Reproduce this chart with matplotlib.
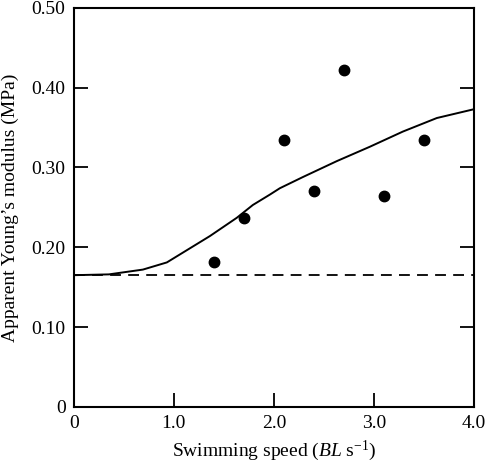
import matplotlib
matplotlib.use("Agg")
import matplotlib.pyplot as plt

plt.rcParams['font.family'] = 'serif'
plt.rcParams['font.serif'] = ['Liberation Serif', 'Times New Roman', 'DejaVu Serif']
plt.rcParams['mathtext.fontset'] = 'custom'
plt.rcParams['mathtext.rm'] = 'Liberation Serif'
plt.rcParams['mathtext.it'] = 'Liberation Serif:italic'

# measured points
speed = [1.4, 1.7, 2.1, 2.4, 2.7, 3.1, 3.5]
modulus = [0.182, 0.237, 0.335, 0.270, 0.422, 0.264, 0.335]

# model curve
curve_x = [0.0, 0.35, 0.69, 0.93, 1.36, 1.63, 1.79, 1.96, 2.06, 2.29, 2.63, 2.96, 3.29, 3.63, 4.0]
curve_y = [0.165, 0.166, 0.172, 0.181, 0.214, 0.237, 0.253, 0.266, 0.274, 0.288, 0.308, 0.326, 0.345, 0.362, 0.373]

baseline = 0.165

fig = plt.figure(figsize=(4.86, 4.66), dpi=100)
ax = fig.add_axes([0.152, 0.127, 0.823, 0.856])

ax.plot(curve_x, curve_y, color='black', lw=1.4)
ax.axhline(baseline, color='black', lw=1.3, dashes=(6, 4))
ax.plot(speed, modulus, 'o', color='black', ms=7.5)

ax.set_xlim(0, 4.0)
ax.set_ylim(0, 0.50)
ax.set_xticks([0, 1, 2, 3, 4])
ax.set_xticklabels(['0', '1.0', '2.0', '3.0', '4.0'])
ax.set_yticks([0, 0.1, 0.2, 0.3, 0.4, 0.5])
ax.set_yticklabels(['0', '0.10', '0.20', '0.30', '0.40', '0.50'])
ax.tick_params(direction='in', length=10, width=1.3, labelsize=14, pad=6)
ax.tick_params(axis='y', right=True)
for s in ax.spines.values():
    s.set_linewidth(1.5)

ax.set_xlabel(r'Swimming speed ($\mathit{BL}$ s$^{-1}$)', fontsize=14, labelpad=5)
ax.set_ylabel('Apparent Young’s modulus (MPa)', fontsize=14, labelpad=9)

fig.savefig('out.png', dpi=100)
